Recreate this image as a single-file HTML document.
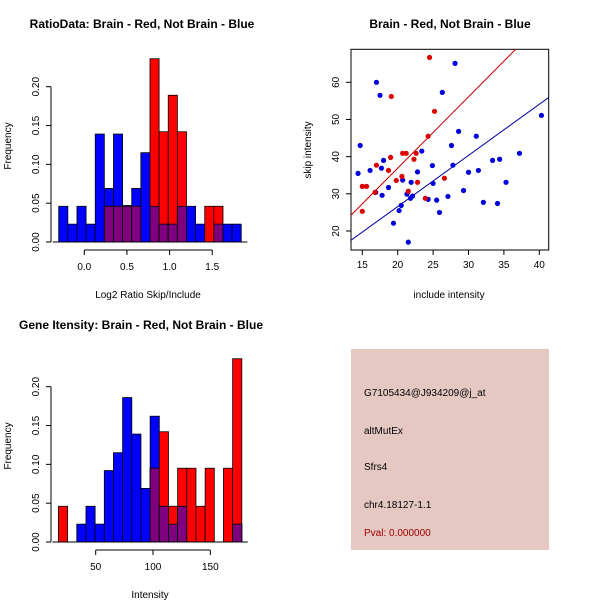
<!DOCTYPE html>
<html><head><meta charset="utf-8"><style>
body{margin:0;background:#fff}
svg{display:block;font-family:"Liberation Sans",sans-serif}
</style></head><body>
<svg id="s" width="600" height="600" viewBox="0 0 600 600">
<text x="142" y="28" font-size="12" font-weight="bold" text-anchor="middle">RatioData: Brain - Red, Not Brain - Blue</text>
<text x="450" y="28" font-size="12" font-weight="bold" text-anchor="middle">Brain - Red, Not Brain - Blue</text>
<text x="141" y="329" font-size="12" font-weight="bold" text-anchor="middle">Gene Itensity: Brain - Red, Not Brain - Blue</text>
<text x="148" y="298" font-size="10" text-anchor="middle">Log2 Ratio Skip/Include</text>
<text x="150" y="598" font-size="10" text-anchor="middle">Intensity</text>
<text transform="translate(11,146) rotate(-90)" font-size="10" text-anchor="middle">Frequency</text>
<text transform="translate(11,446) rotate(-90)" font-size="10" text-anchor="middle">Frequency</text>
<text x="449" y="298" font-size="10" text-anchor="middle">include intensity</text>
<text transform="translate(311,150) rotate(-90)" font-size="10" text-anchor="middle">skip intensity</text>
<rect x="351" y="349" width="198" height="201" fill="#e6c8c2"/>
<text x="364" y="396" font-size="10">G7105434@J934209@j_at</text>
<text x="364" y="434" font-size="10">altMutEx</text>
<text x="364" y="470" font-size="10">Sfrs4</text>
<text x="364" y="508" font-size="10">chr4.18127-1.1</text>
<text x="364" y="536" font-size="10" fill="#a00000">Pval: 0.000000</text>
</svg>
<script>
// Ratio histogram data
const ratioStart=-0.3, ratioWidth=0.107;
const ratioBlue=[.046,.023,.046,.023,.139,.069,.139,.047,.069,.115,.046,.023,.023,.046,.046,.023,0,.023,.023,.023];
const ratioRed=[0,0,0,0,0,.046,.046,.046,.046,0,.236,.142,.189,.142,0,0,.046,.046,0,0];
const ratioTicks=[0,0.5,1,1.5];
const ratioTickLabels=["0.0","0.5","1.0","1.5"];
// Intensity histogram data
const intStart=17.5, intWidth=8;
const intBlue=[0,0,.023,.046,.023,.092,.115,.186,.139,.069,.162,.046,.023,.046,0,0,0,0,0,.023];
const intRed=[.046,0,0,0,0,0,0,0,0,0,.095,.142,.046,.095,.095,.046,.095,0,.095,.236];
const intTicks=[50,100,150];
const freqTicks=[0,.05,.10,.15,.20];
const freqLabels=["0.00","0.05","0.10","0.15","0.20"];
// Scatter data
const blueX=[14.7,14.4,16.1,17.0,17.5,18.0,17.7,17.8,16.9,18.7,19.4,20.2,20.5,20.7,21.3,21.5,21.8,22.1,21.9,22.8,23.4,24.3,24.9,25.0,25.5,25.9,26.3,27.1,27.6,27.8,28.1,28.6,29.3,30.0,31.1,31.4,32.1,33.4,34.1,34.4,35.3,37.2,40.3];
const blueY=[43.0,35.5,36.3,60.0,56.5,39.0,36.9,29.6,30.4,31.7,22.1,25.5,26.9,33.7,29.9,17.0,28.8,29.4,33.1,35.9,41.5,28.5,37.6,32.8,28.3,25.0,57.3,29.3,43.0,37.7,65.1,46.8,30.9,35.8,45.5,36.3,27.7,39.0,27.4,39.3,33.1,40.9,51.1];
const redX=[15.0,15.0,15.6,17.0,16.8,19.1,19.0,18.7,19.8,20.6,20.7,21.2,21.5,22.3,22.6,22.8,23.9,24.3,24.5,25.2,26.6];
const redY=[25.3,32.0,32.0,37.7,30.4,56.2,39.8,36.3,33.6,34.7,40.9,40.9,30.7,39.3,40.9,33.1,28.8,45.5,66.7,52.2,34.2];
const redFit=[-1.5,1.92], blueFit=[-0.94,1.376];
const sxTicks=[15,20,25,30,35,40], syTicks=[20,30,40,50,60];

const NS="http://www.w3.org/2000/svg", S=document.getElementById('s');
function mk(t,a){const e=document.createElementNS(NS,t);for(const k in a)e.setAttribute(k,a[k]);S.appendChild(e);return e;}
function txt(x,y,s,rot,anchor){const e=mk('text',{x:x,y:y,'font-size':10,'text-anchor':anchor||'middle'});if(rot)e.setAttribute('transform','rotate(-90 '+x+' '+y+')');e.textContent=s;return e;}

function hist(px0,pxPerUnit,y0,start,w,blue,red,ticks,labels,pre){
  const X=v=>px0+v*pxPerUnit, Y=f=>y0-f*776.5;
  for(let i=0;i<blue.length;i++){
    const x1=X(start+i*w), x2=X(start+(i+1)*w);
    const b=blue[i], r=red[i], m=Math.min(b,r);
    if(b>0){const e=mk('rect',{x:x1,y:Y(b),width:x2-x1,height:Y(0)-Y(b),fill:'#0000ff',stroke:'#000','stroke-width':0.8});
      }
    if(r>0){const e=mk('rect',{x:x1,y:Y(r),width:x2-x1,height:Y(0)-Y(r),fill:'#ff0000',stroke:'#000','stroke-width':0.8});
      }
    if(m>0){const e=mk('rect',{x:x1,y:Y(m),width:x2-x1,height:Y(0)-Y(m),fill:'#7f007f',stroke:'#000','stroke-width':0.8});
      }
  }
  const xl=X(start), xr=X(start+blue.length*w);
  mk('line',{x1:xl-6,x2:xr+6,y1:y0,y2:y0,stroke:'#000'});
  // x axis
  const ay=y0+8;
  const xa=mk('line',{x1:X(ticks[0]),x2:X(ticks[ticks.length-1]),y1:ay,y2:ay,stroke:'#000'});
  
  ticks.forEach((t,i)=>{mk('line',{x1:X(t),x2:X(t),y1:ay,y2:ay+5,stroke:'#000'});
    const e=txt(X(t),ay+20,labels?labels[i]:String(t));});
  // y axis
  const axx=51;
  const ya=mk('line',{x1:axx,x2:axx,y1:Y(0),y2:Y(.2),stroke:'#000'});
  
  freqTicks.forEach((t,i)=>{mk('line',{x1:axx-5,x2:axx,y1:Y(t),y2:Y(t),stroke:'#000'});
    const e=txt(axx-12,Y(t),freqLabels[i],true);});
}
hist(84.3,85.3,242,ratioStart,ratioWidth,ratioBlue,ratioRed,ratioTicks,ratioTickLabels,'ratio');
hist(95.7-50*1.146,1.146,542,intStart,intWidth,intBlue,intRed,intTicks,null,'intensity');

// scatter
const SX=v=>362.3+(v-15)*7.08, SY=v=>231-(v-20)*3.717;
const box=mk('rect',{x:351,y:49.3,width:197.7,height:200.7,fill:'none',stroke:'#000'});

const cp=mk('clipPath',{id:'c'});const cr=document.createElementNS(NS,'rect');
cr.setAttribute('x',351);cr.setAttribute('y',49.3);cr.setAttribute('width',197.7);cr.setAttribute('height',200.7);cp.appendChild(cr);
[[redFit,'#cc0000','red-fit-line'],[blueFit,'#000099','blue-fit-line']].forEach(([f,c,n])=>{
  const e=mk('line',{x1:SX(13),y1:SY(f[0]+f[1]*13),x2:SX(42),y2:SY(f[0]+f[1]*42),stroke:c,'stroke-width':1,'clip-path':'url(#c)'});
  });
blueX.forEach((x,i)=>{const e=mk('circle',{cx:SX(x),cy:SY(blueY[i]),r:2.6,fill:'#0000dd'});
  });
redX.forEach((x,i)=>{const e=mk('circle',{cx:SX(x),cy:SY(redY[i]),r:2.6,fill:'#dd0000'});
  });
sxTicks.forEach(t=>{mk('line',{x1:SX(t),x2:SX(t),y1:250,y2:255,stroke:'#000'});
  const e=txt(SX(t),268,String(t));});
syTicks.forEach(t=>{mk('line',{x1:346,x2:351,y1:SY(t),y2:SY(t),stroke:'#000'});
  const e=txt(339,SY(t),String(t),true);});
</script>
</body></html>
